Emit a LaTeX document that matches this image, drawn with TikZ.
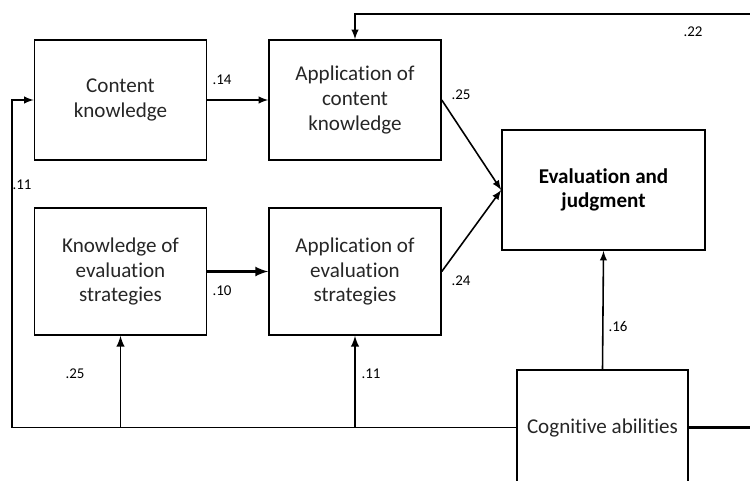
\documentclass[tikz,border=0pt]{standalone}
\usepackage{fontspec}
\setmainfont[Ligatures={NoCommon}]{Carlito}
\usepackage{tikz}
\usetikzlibrary{positioning, arrows.meta, calc}

\begin{document}
\begin{tikzpicture}[x=0.02cm, y=-0.02cm, line width=0.9pt,
      box/.style={draw, minimum width=3.44cm, minimum height=2.4cm, align=center, font=\fontsize{12}{14}\selectfont, text=black!85, inner sep=2pt},
      coef/.style={font=\fontsize{8.5}{10}\selectfont, inner sep=1pt}]
      \useasboundingbox (0,0) rectangle (750,480);
      \node[box] (ck) at (120.5,100) {Content\\knowledge};
      \node[box] (ack) at (355,100) {Application of\\content\\knowledge};
      \node[box, minimum height=2.54cm] (kes) at (120.5,271.5) {Knowledge of\\evaluation\\strategies};
      \node[box, minimum height=2.54cm] (aes) at (355,271.5) {Application of\\evaluation\\strategies};
      \node[box, minimum width=4.06cm, font=\fontsize{12}{14}\selectfont\bfseries, text=black] (ej) at (603.5,190) {Evaluation and\\judgment};
      \node[box, minimum width=3.42cm, minimum height=2.3cm] (ca) at (602.5,427.5) {Cognitive abilities};
      \coordinate (lf) at (12,427.5);
      \coordinate (rb) at (755,427.5);
      \coordinate (rt) at (755,14);
      % paths
      \draw[-latex](ck)--(ack);\draw[-latex, line width=1.5pt](kes)--(aes);
      \draw[-latex](ack.east)--(ej.west);\draw[-latex](aes.east)--(ej.west);
      \draw[-latex](ca.north)--(ej.south);
      \draw[-latex](ca.west)--(lf)|-(ck.west);
      \draw[-latex, line width=1.1pt](kes.south |- ca.west)--(kes.south);
      \draw[-latex, line width=1.1pt](aes.south |- ca.west)--(aes.south);
      \draw[line width=1.8pt](ca.east)--(rb);
      \draw[-latex](rb)--(rt)-|(ack.north);
      % coefficients
      \node[coef] (c1) at (222,80) {.14};
      \node[coef] (c2) at (461,95) {.25};
      \node[coef] (c3) at (693,32) {.22};
      \node[coef] (c4) at (22,185) {.11};
      \node[coef] (c5) at (222,291) {.10};
      \node[coef] (c6) at (461,281) {.24};
      \node[coef] (c7) at (75,374) {.25};
      \node[coef] (c8) at (371,374) {.11};
      \node[coef] (c9) at (618,327) {.16};
    \end{tikzpicture}
\end{document}
